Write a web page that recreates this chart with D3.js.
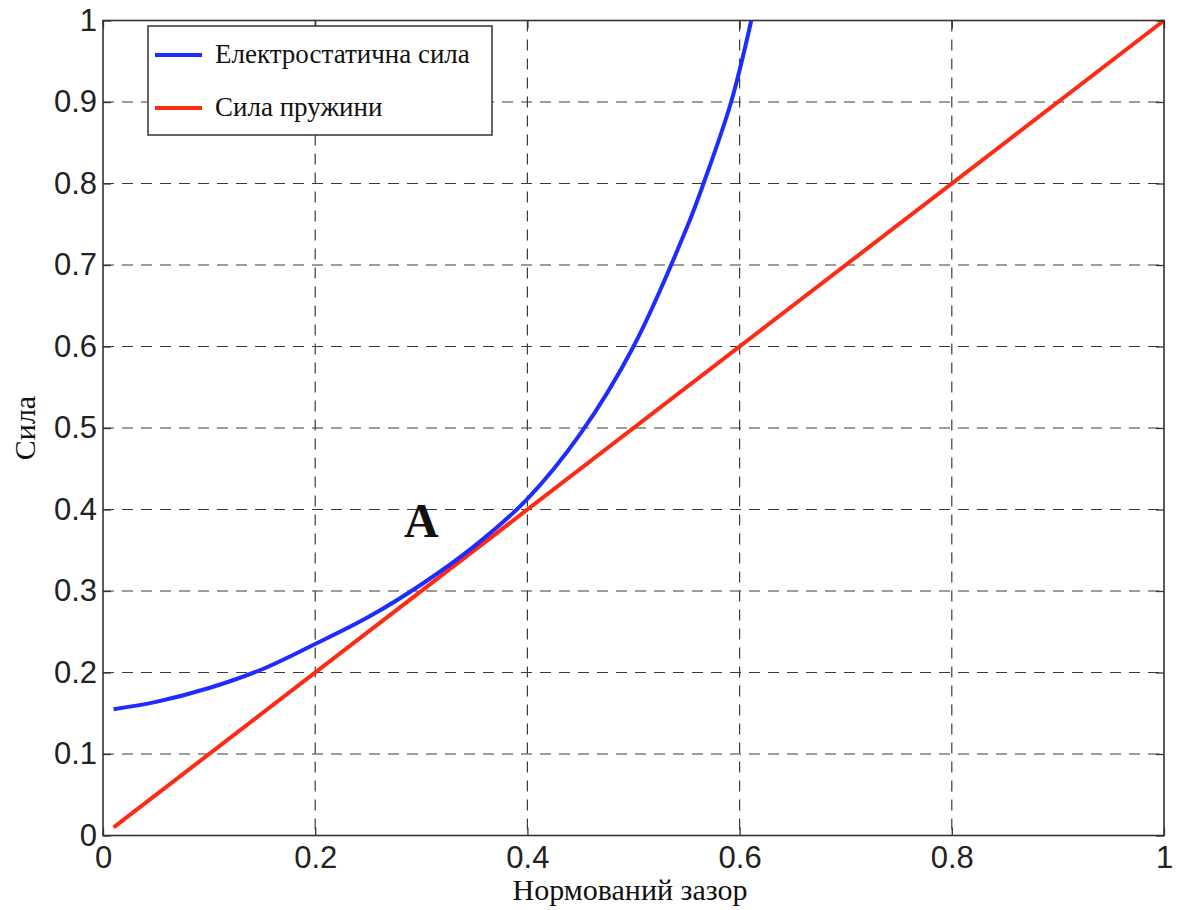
<!DOCTYPE html>
<html>
<head>
<meta charset="utf-8">
<title>Сила vs Нормований зазор</title>
<script src="https://d3js.org/d3.v7.min.js"></script>
<style>
  body { margin: 0; background: #fff; }
  .tick-label { font-family: "Liberation Sans", Arial, sans-serif; font-size: 31px; fill: #222; }
  .serif { font-family: "Liberation Serif", "Times New Roman", serif; fill: #111; }
</style>
</head>
<body>
<div id="container"></div>
<script>
// ---------------- data ----------------
var xTicks = [0, 0.2, 0.4, 0.6, 0.8, 1];
var yTicks = [0, 0.1, 0.2, 0.3, 0.4, 0.5, 0.6, 0.7, 0.8, 0.9, 1];
var xTickLabels = ["0", "0.2", "0.4", "0.6", "0.8", "1"];
var yTickLabels = ["0", "0.1", "0.2", "0.3", "0.4", "0.5", "0.6", "0.7", "0.8", "0.9", "1"];

// Електростатична сила
var elecGap   = [0.01, 0.05, 0.1, 0.15, 0.2, 0.25, 0.3, 0.35, 0.4, 0.45, 0.5, 0.55, 0.566, 0.592, 0.611];
var elecForce = [0.155, 0.164, 0.181, 0.204, 0.235, 0.268, 0.308, 0.355, 0.413, 0.493, 0.6, 0.745, 0.8, 0.9, 1.0];

// Сила пружини
var springGap   = [0.01, 1];
var springForce = [0.01, 1];

var seriesNames = ["Електростатична сила", "Сила пружини"];
var seriesColors = ["#1f2cff", "#ff2a14"];

// ---------------- layout ----------------
var W = 1178, H = 910;
var x = d3.scaleLinear().domain([0, 1]).range([103, 1164]);
var y = d3.scaleLinear().domain([0, 1]).range([835.5, 20.5]);

var svg = d3.select("#container").append("svg")
    .attr("width", W).attr("height", H)
    .style("background", "#fff");

// grid
var grid = svg.append("g").attr("stroke", "#3a3a3a").attr("stroke-width", 1.2)
    .attr("stroke-dasharray", "11,8");
grid.selectAll(".vg").data(xTicks.slice(1, -1)).enter().append("line")
    .attr("x1", d => x(d)).attr("x2", d => x(d))
    .attr("y1", y(1)).attr("y2", y(0));
grid.selectAll(".hg").data(yTicks.slice(1, -1)).enter().append("line")
    .attr("y1", d => y(d)).attr("y2", d => y(d))
    .attr("x1", x(0)).attr("x2", x(1));

// lines
var line = d3.line().x(d => x(d[0])).y(d => y(d[1])).curve(d3.curveCatmullRom.alpha(0.5));
var elec = elecGap.map((g, i) => [g, elecForce[i]]);
var spring = springGap.map((g, i) => [g, springForce[i]]);

svg.append("path").datum(spring)
    .attr("d", line).attr("fill", "none")
    .attr("stroke", seriesColors[1]).attr("stroke-width", 4);
svg.append("path").datum(elec)
    .attr("d", line).attr("fill", "none")
    .attr("stroke", seriesColors[0]).attr("stroke-width", 4);

// axes box + inner ticks (matlab style)
var axG = svg.append("g");
axG.append("rect").attr("x", x(0)).attr("y", y(1))
    .attr("width", x(1) - x(0)).attr("height", y(0) - y(1))
    .attr("fill", "none").attr("stroke", "#333").attr("stroke-width", 1.6);

var axBottom = axG.append("g").attr("transform", "translate(0," + y(0) + ")")
    .call(d3.axisBottom(x).tickValues(xTicks).tickSizeInner(-8).tickSizeOuter(0)
        .tickFormat((d, i) => xTickLabels[i]).tickPadding(10));
var axTop = axG.append("g").attr("transform", "translate(0," + y(1) + ")")
    .call(d3.axisTop(x).tickValues(xTicks).tickSizeInner(-8).tickSizeOuter(0).tickFormat(""));
var axLeft = axG.append("g").attr("transform", "translate(" + x(0) + ",0)")
    .call(d3.axisLeft(y).tickValues(yTicks).tickSizeInner(-8).tickSizeOuter(0)
        .tickFormat((d, i) => yTickLabels[i]).tickPadding(6));
var axRight = axG.append("g").attr("transform", "translate(" + x(1) + ",0)")
    .call(d3.axisRight(y).tickValues(yTicks).tickSizeInner(-8).tickSizeOuter(0).tickFormat(""));

[axBottom, axTop, axLeft, axRight].forEach(function(g) {
  g.select(".domain").remove();
  g.selectAll(".tick line").attr("stroke", "#333").attr("stroke-width", 1.3);
  g.selectAll("text").attr("class", "tick-label").attr("fill", "#222");
});
axG.selectAll("g").attr("font-size", null).attr("font-family", null);

// axis titles
svg.append("text").attr("class", "serif")
    .attr("x", 630).attr("y", 900)
    .attr("text-anchor", "middle").style("font-size", "30px")
    .text("Нормований зазор");
svg.append("text").attr("class", "serif")
    .attr("transform", "translate(35," + y(0.5) + ") rotate(-90)")
    .attr("text-anchor", "middle").style("font-size", "30px")
    .text("Сила");

// annotation A
svg.append("text").attr("class", "serif")
    .attr("x", x(0.30)).attr("y", y(0.366))
    .attr("text-anchor", "middle").style("font-size", "48px").style("font-weight", "bold")
    .text("A");

// legend
var lg = svg.append("g").attr("transform", "translate(148,26)");
lg.append("rect").attr("width", 344).attr("height", 109)
    .attr("fill", "#fff").attr("stroke", "#333").attr("stroke-width", 1.5);
var rows = lg.selectAll(".row").data(seriesNames).enter().append("g")
    .attr("transform", (d, i) => "translate(0," + (29 + i * 53) + ")");
rows.append("line").attr("x1", 7).attr("x2", 54).attr("y1", 0).attr("y2", 0)
    .attr("stroke", (d, i) => seriesColors[i]).attr("stroke-width", 4);
rows.append("text").attr("class", "serif").attr("x", 67).attr("y", 8)
    .style("font-size", "27px").text(d => d);
</script>
</body>
</html>
